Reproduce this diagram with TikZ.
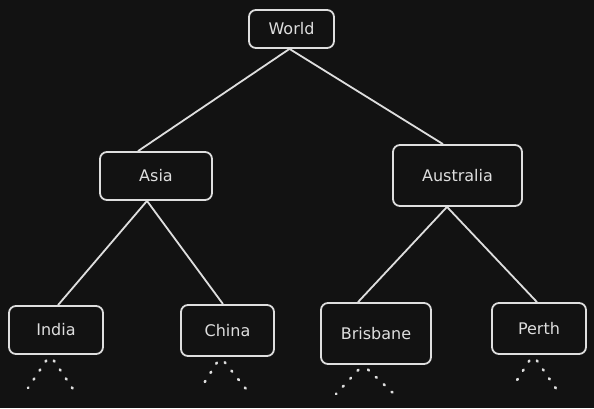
\documentclass[tikz,border=0pt]{standalone}
\usepackage{fontspec}
\setmainfont{DejaVu Sans}
\usepackage{xcolor}
\definecolor{ink}{RGB}{222,222,222}
\definecolor{paper}{RGB}{18,18,18}

\begin{document}
\begin{tikzpicture}[x=1pt, y=-1pt, semithick]
        \tikzset{
           box/.style={
                        rectangle,
                        rounded corners=7pt,
                        draw=ink,
                        line width=1.8pt,
                        fill=none,
                        text=ink,
                        inner sep=0pt,
                        font=\fontsize{16}{19}\selectfont
                       },
           link/.style={draw=ink, line width=1.8pt},
           more/.style={draw=ink, line width=2.6pt, line cap=round, dash pattern=on 1.2pt off 9.6pt, dash phase=4pt},
                 };
        \fill[paper] (0,0) rectangle (594,408);
        \useasboundingbox (0,0) rectangle (594,408);
        %----------------
        \node[box, minimum width=85pt, minimum height=38pt] (world) at (291.5,29) {World};
          \node[box, minimum width=112pt, minimum height=48pt] (asia) at (156,176) {Asia};
            \node[box, minimum width=94pt, minimum height=48pt] (india) at (56,330) {India};
            \node[box, minimum width=93pt, minimum height=51pt] (china) at (227.5,330.5) {China};
          \node[box, minimum width=129pt, minimum height=61pt] (australia) at (457.5,175.5) {Australia};
            \node[box, minimum width=110pt, minimum height=61pt] (brisbane) at (376,333.5) {Brisbane};
            \node[box, minimum width=94pt, minimum height=51pt] (perth) at (539,328.5) {Perth};
        %----------------
        \coordinate (indiaL) at (28,388);
        \coordinate (indiaR) at (77,395);
        \coordinate (chinaL) at (201,388);
        \coordinate (chinaR) at (250,394);
        \coordinate (brisbaneL) at (336,394);
        \coordinate (brisbaneR) at (393,393);
        \coordinate (perthL) at (512,388);
        \coordinate (perthR) at (557,390);
        %----------------
        \path[link] ([xshift=-2pt]world.south) edge ([xshift=-18pt]asia.north)
              ([xshift=-2pt]world.south) edge ([xshift=-14.5pt]australia.north)
              ([xshift=-9pt]asia.south) edge ([xshift=2pt]india.north)
              ([xshift=-9pt]asia.south) edge ([xshift=-4.5pt]china.north)
              ([xshift=-10.5pt]australia.south) edge ([xshift=-18pt]brisbane.north)
              ([xshift=-10.5pt]australia.south) edge ([xshift=-2pt]perth.north)
        ;
        \path[more] ([xshift=-6pt]india.south) edge (indiaL)
              ([xshift=-6pt]india.south) edge (indiaR)
              ([xshift=-7pt]china.south) edge (chinaL)
              ([xshift=-7pt]china.south) edge (chinaR)
              ([xshift=-13pt]brisbane.south) edge (brisbaneL)
              ([xshift=-13pt]brisbane.south) edge (brisbaneR)
              ([xshift=-6pt]perth.south) edge (perthL)
              ([xshift=-6pt]perth.south) edge (perthR)
        ;
    \end{tikzpicture}
\end{document}
